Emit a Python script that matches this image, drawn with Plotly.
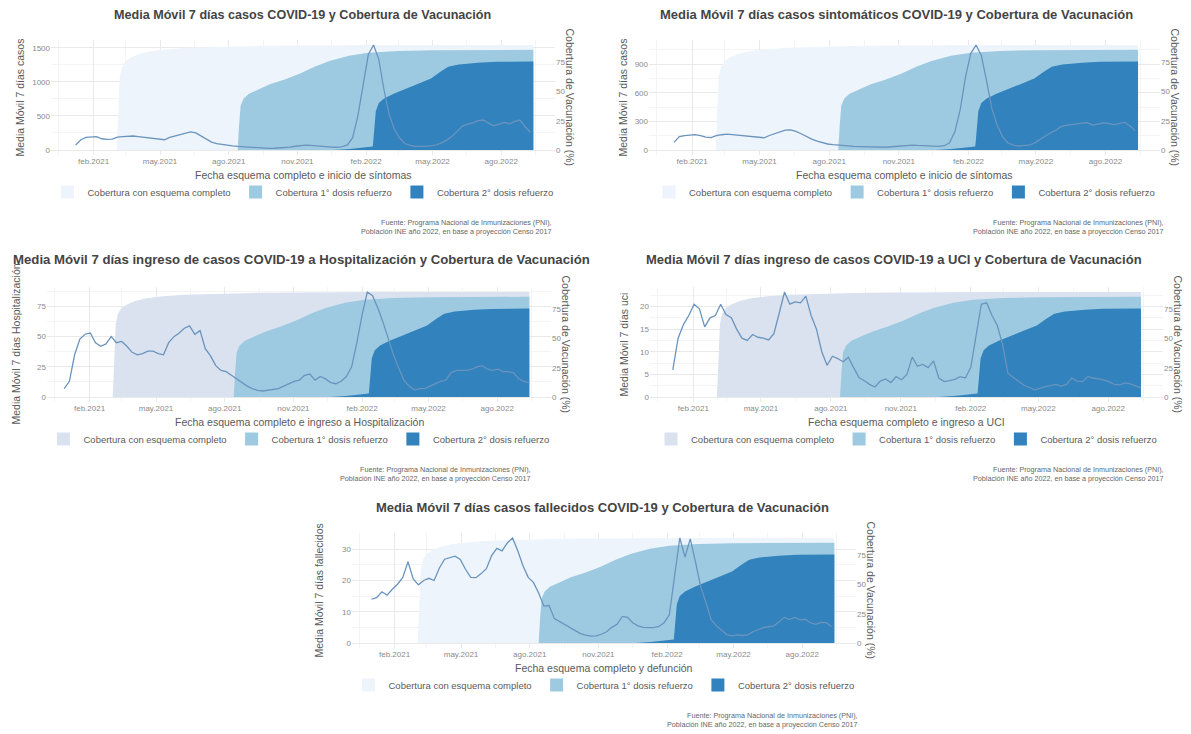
import plotly.graph_objects as go
import pandas as pd

W, H = 1191, 734

# ---------------- data ----------------
TICK_VALS = ["2021-02-01", "2021-05-01", "2021-08-01", "2021-11-01", "2022-02-01", "2022-05-01", "2022-08-01"]
TICK_TEXT = ["feb.2021", "may.2021", "ago.2021", "nov.2021", "feb.2022", "may.2022", "ago.2022"]
MINOR_VALS = ["2020-12-16", "2021-03-16", "2021-06-16", "2021-09-16", "2021-12-16", "2022-03-16", "2022-06-16", "2022-09-16"]
X_RANGE = ["2020-12-06", "2022-10-12"]

# weekly 7-day moving averages
CASOS_START = "2021-01-08"
CASOS = [74, 150, 185, 195, 195, 165, 155, 160, 188, 195, 200, 205, 195, 185, 180, 170, 160, 150, 185, 205,
         225, 255, 265, 250, 205, 150, 115, 95, 80, 68, 60, 52, 46, 41, 36, 30, 26, 25, 26, 28,
         32, 42, 55, 65, 72, 68, 60, 52, 45, 42, 40, 50, 74, 180, 500, 980, 1400, 1540, 1330, 880,
         520, 300, 175, 95, 68, 55, 50, 52, 60, 75, 105, 145, 200, 270, 350, 380, 396, 430, 440, 395,
         356, 380, 406, 385, 420, 440, 340, 260]

SINTOM_START = "2021-01-08"
SINTOM = [80, 140, 150, 156, 162, 150, 134, 130, 150, 160, 166, 162, 156, 150, 143, 136, 130, 128, 152, 172,
          192, 208, 210, 195, 170, 140, 114, 92, 74, 63, 56, 50, 45, 40, 37, 35, 33, 31, 29, 28,
          29, 34, 40, 45, 50, 52, 48, 44, 41, 39, 38, 45, 75, 190, 420, 760, 1010, 1100, 990, 720,
          430, 260, 140, 75, 52, 42, 44, 50, 72, 110, 145, 178, 205, 245, 258, 268, 272, 282, 287, 260,
          270, 284, 280, 266, 276, 292, 255, 205]

HOSP_START = "2020-12-29"
HOSP = [7, 13, 35, 48, 52, 53, 45, 42, 44, 50, 45, 46, 42, 37, 35, 36, 38, 38, 36, 35,
        45, 50, 53, 57, 59, 52, 55, 40, 34, 26, 22, 21, 18, 15, 12, 9, 7, 5.5, 5, 5.5,
        6, 7, 9, 11, 13, 14, 18, 19, 14, 17, 15, 12, 11, 13, 17, 25, 45, 68, 87, 84,
        74, 62, 48, 35, 24, 14, 9, 6, 7, 7, 9, 11, 13, 14, 20, 22, 22, 22, 23, 25,
        26, 23, 22, 23, 21, 21, 20, 15, 13, 12]

UCI_START = "2021-01-05"
UCI = [6, 13, 16, 18, 20.5, 19.5, 15.5, 17.5, 18, 20.5, 18.2, 17.5, 15, 13, 12.5, 13.8, 13.2, 13, 12.6, 14,
       18.5, 23.2, 20.5, 21, 20.8, 22.3, 18, 15, 10, 7, 9, 8.5, 7.8, 8.8, 6.5, 4.3, 3.6, 2.8, 2.2, 3.5,
       4, 3.2, 4.5, 3.8, 5, 8.8, 6.8, 7.2, 6.5, 8, 4.2, 3.4, 3.6, 3.9, 4.5, 4.2, 6.5, 14, 20.5, 20.8,
       18, 15.8, 11.5, 5.2, 4.4, 3.4, 2.6, 2.1, 1.6, 1.9, 2.3, 2.5, 2.8, 2.4, 2.8, 4.2, 3.5, 3.4, 4.5, 4.2,
       4, 3.8, 3.4, 2.8, 2.7, 3.1, 2.9, 2.4, 2]

FALL_START = "2021-01-01"
FALL = [14, 14.5, 16.4, 15.3, 17.2, 18.8, 21, 26, 20.5, 18.6, 20, 20.7, 20, 24, 26.8, 27.3, 27.8, 26.7, 23.6, 21,
        20.9, 22.2, 23.8, 28, 30.3, 29.5, 32, 33.6, 29.5, 24.7, 21, 19.4, 16, 11.8, 12, 7.8, 6.8, 5.8, 4.9, 3.9,
        3, 2.5, 2.2, 2.3, 2.8, 3.6, 5, 6, 8.5, 8.2, 6.5, 5.5, 5, 4.9, 4.9, 5.3, 6.5, 9, 22, 33.6,
        27.5, 33.3, 26, 18, 13, 7.5, 5.5, 4.2, 2.7, 2.3, 2.6, 2.4, 2.6, 3.6, 4.3, 4.9, 5.2, 5.5, 6.8, 8.2,
        7.6, 8.2, 7.4, 7.6, 6.5, 6, 6.6, 6.5, 5.3]

# vaccination coverage (%)
COMPLETO_DATES = ["2020-12-29", "2021-03-04", "2021-03-06", "2021-03-08", "2021-03-11", "2021-03-16", "2021-03-23",
                  "2021-04-03", "2021-04-18", "2021-05-10", "2021-06-08", "2021-07-10", "2021-08-10", "2021-09-15",
                  "2021-11-01", "2022-01-01", "2022-03-01", "2022-09-13"]
COMPLETO = [0, 0, 30, 62, 71, 76, 79, 82, 84.3, 86, 87.3, 88, 88.5, 88.9, 89.2, 89.4, 89.5, 89.6]

REF1_DATES = ["2020-12-29", "2021-08-13", "2021-08-15", "2021-08-17", "2021-08-21", "2021-08-28", "2021-09-11",
              "2021-09-25", "2021-10-14", "2021-11-04", "2021-11-24", "2021-12-14", "2022-01-09", "2022-02-04",
              "2022-03-15", "2022-05-01", "2022-09-13"]
REF1 = [0, 0, 22, 38, 44, 48, 52, 56, 60, 65, 71, 76, 80.5, 83, 84.5, 85.2, 85.5]

REF2_DATES = ["2020-12-29", "2021-12-20", "2022-01-10", "2022-02-01", "2022-02-10", "2022-02-12", "2022-02-14",
              "2022-02-18", "2022-02-25", "2022-03-10", "2022-03-25", "2022-04-13", "2022-04-29", "2022-05-12",
              "2022-05-22", "2022-06-05", "2022-07-01", "2022-07-25", "2022-09-13"]
REF2 = [0, 0, 0.8, 2, 3, 18, 33, 40, 44, 48, 52, 57, 61, 67, 71, 73, 74.5, 75.2, 75.5]

LEGEND_NAMES = ["Cobertura con esquema completo", "Cobertura 1° dosis refuerzo", "Cobertura 2° dosis refuerzo"]
SOURCE = "Fuente: Programa Nacional de Inmunizaciones (PNI),<br>Población INE año 2022, en base a proyección Censo 2017"
RIGHT_TICKS = [0, 25, 50, 75]

# ---------------- style ----------------
FONT = "Liberation Sans, Arial, sans-serif"
LINE_COLOR = "#6a94be"
MID = "#9ecae1"
DARK = "#3182bd"
LIGHT_A = "#eef4fb"
LIGHT_B = "#dae2ef"
GRID = "#e9e9e9"
GRID_MINOR = "#f4f4f4"
TICKC = "#8a8a8a"
TEXTC = "#5a5a5a"

panels = [
    dict(title="Media Móvil 7 días casos COVID-19 y Cobertura de Vacunación", tsize=12.6, tx=294, ty=135,
         ytitle="Media Móvil 7 días casos", xtitle="Fecha esquema completo e inicio de síntomas",
         start=CASOS_START, vals=CASOS, yticks=[0, 500, 1000, 1500], yminor=[250, 750, 1250],
         xpx=(43, 547), zero=142, ytx=11, light=LIGHT_A, src=546),
    dict(title="Media Móvil 7 días casos sintomáticos COVID-19 y Cobertura de Vacunación", tsize=13, tx=888,
         ty=135,
         ytitle="Media Móvil 7 días casos", xtitle="Fecha esquema completo e inicio de síntomas",
         start=SINTOM_START, vals=SINTOM, yticks=[0, 300, 600, 900], yminor=[150, 450, 750, 1050],
         xpx=(641, 1152), zero=142, ytx=614, light=LIGHT_A, src=1158),
    dict(title="Media Móvil 7 días ingreso de casos COVID-19 a Hospitalización y Cobertura de Vacunación", tsize=13.2,
         tx=293, ty=138,
         ytitle="Media Móvil 7 días Hospitalización", xtitle="Fecha esquema completo e ingreso a Hospitalización",
         start=HOSP_START, vals=HOSP, yticks=[0, 25, 50, 75], yminor=[12.5, 37.5, 62.5, 87.5],
         xpx=(39, 543), zero=389, ytx=7, light=LIGHT_B, src=525),
    dict(title="Media Móvil 7 días ingreso de casos COVID-19 a UCI y Cobertura de Vacunación", tsize=13, tx=886,
         ty=138,
         ytitle="Media Móvil 7 días uci", xtitle="Fecha esquema completo e ingreso a UCI",
         start=UCI_START, vals=UCI, yticks=[0, 5, 10, 15, 20], yminor=[2.5, 7.5, 12.5, 17.5, 22.5],
         xpx=(642, 1155), zero=389, ytx=615, light=LIGHT_B, src=1158),
    dict(title="Media Móvil 7 días casos fallecidos COVID-19 y Cobertura de Vacunación", tsize=13, tx=594,
         ty=135,
         ytitle="Media Móvil 7 días fallecidos", xtitle="Fecha esquema completo y defunción",
         start=FALL_START, vals=FALL, yticks=[0, 10, 20, 30], yminor=[5, 15, 25],
         xpx=(344, 848), zero=635, ytx=310, light=LIGHT_A, src=852),
]

PANEL_H = 115.5

fig = go.Figure()
layout = {}
annotations = []

for i, p in enumerate(panels):
    n = i + 1
    xa = "x" if n == 1 else f"x{n}"
    bnum, onum = 2 * i + 1, 2 * i + 2
    yb = "y" if bnum == 1 else f"y{bnum}"
    yo = f"y{onum}"
    leg = "legend" if n == 1 else f"legend{n}"

    covs = [(COMPLETO_DATES, COMPLETO, p["light"]), (REF1_DATES, REF1, MID), (REF2_DATES, REF2, DARK)]
    for dts, vals, col in covs:
        fig.add_trace(go.Scatter(x=pd.to_datetime(dts), y=vals, xaxis=xa, yaxis=yb, mode="lines",
                                 line=dict(width=0, color=col), fill="tozeroy", fillcolor=col,
                                 showlegend=False, hoverinfo="skip"))
    dates = pd.date_range(p["start"], periods=len(p["vals"]), freq="7D")
    fig.add_trace(go.Scatter(x=dates, y=p["vals"], xaxis=xa, yaxis=yo, mode="lines",
                             line=dict(color=LINE_COLOR, width=1.3), showlegend=False))
    for name, (_, _, col) in zip(LEGEND_NAMES, covs):
        fig.add_trace(go.Scatter(x=[None], y=[None], xaxis=xa, yaxis=yb, mode="markers",
                                 marker=dict(symbol="square", size=13, color=col),
                                 name=name, legend=leg, showlegend=True))

    x0, x1 = p["xpx"]
    zero = p["zero"]
    bottom = zero + 5.25
    top = bottom - PANEL_H
    dom_x = [x0 / W, x1 / W]
    dom_y = [1 - bottom / H, 1 - top / H]
    M = max(p["vals"])
    rl = [-0.05 * M, 1.05 * M]
    k = M / max(COMPLETO)
    rr = [rl[0] / k, rl[1] / k]
    tickfont = dict(size=8, color=TICKC, family=FONT)

    layout["xaxis" if n == 1 else f"xaxis{n}"] = dict(
        domain=dom_x, anchor=yb, type="date", range=X_RANGE, tickmode="array",
        tickvals=TICK_VALS, ticktext=TICK_TEXT, showgrid=True, gridcolor=GRID, gridwidth=1,
        zeroline=False, showline=False, ticks="", tickfont=tickfont, fixedrange=True,
        minor=dict(tickmode="array", tickvals=MINOR_VALS, showgrid=True, gridcolor=GRID_MINOR, gridwidth=1))
    layout["yaxis" if bnum == 1 else f"yaxis{bnum}"] = dict(
        domain=dom_y, anchor=xa, side="right", range=rr, tickmode="array", tickvals=RIGHT_TICKS,
        showgrid=False, zeroline=False, showline=False, ticks="", tickfont=tickfont, fixedrange=True)
    layout[f"yaxis{onum}"] = dict(
        anchor=xa, overlaying=yb, side="left", range=rl, tickmode="array", tickvals=p["yticks"],
        showgrid=True, gridcolor=GRID, gridwidth=1, zeroline=False, showline=False, ticks="",
        tickfont=tickfont, fixedrange=True,
        minor=dict(tickmode="array", tickvals=p["yminor"], showgrid=True, gridcolor=GRID_MINOR, gridwidth=1))

    cx = (x0 + x1) / 2
    layout[leg] = dict(orientation="h", x=cx / W, y=1 - (zero + 42) / H, xanchor="center", yanchor="middle",
                       font=dict(size=9.5, color=TEXTC, family=FONT), bgcolor="rgba(0,0,0,0)",
                       itemwidth=30, tracegroupgap=0, itemclick=False, itemdoubleclick=False)

    annotations += [
        dict(text=f"<b>{p['title']}</b>", x=p["tx"] / W, y=1 - (zero - p["ty"]) / H, xref="paper", yref="paper",
             xanchor="center", yanchor="middle", showarrow=False,
             font=dict(size=p["tsize"], color="#444444", family=FONT)),
        dict(text=p["xtitle"], x=cx / W, y=1 - (zero + 25) / H, xref="paper", yref="paper",
             xanchor="center", yanchor="middle", showarrow=False,
             font=dict(size=10.5, color=TEXTC, family=FONT)),
        dict(text=p["ytitle"], x=p["ytx"] / W, y=1 - (bottom + top) / 2 / H, xref="paper", yref="paper",
             xanchor="center", yanchor="middle", showarrow=False, textangle=-90,
             font=dict(size=10.5, color=TEXTC, family=FONT)),
        dict(text="Cobertura de Vacunación (%)", x=(x1 + 15) / W, y=1 - (bottom + top) / 2 / H,
             xref="paper", yref="paper", xanchor="center", yanchor="middle", showarrow=False, textangle=90,
             font=dict(size=10.5, color=TEXTC, family=FONT)),
        dict(text=SOURCE, x=p["src"] / W, y=1 - (zero + 66) / H, xref="paper", yref="paper",
             xanchor="right", yanchor="top", align="right", showarrow=False,
             font=dict(size=7.2, color="#666666", family=FONT)),
    ]

fig.update_layout(
    width=W, height=H, margin=dict(l=0, r=0, t=0, b=0),
    paper_bgcolor="white", plot_bgcolor="white",
    font=dict(family=FONT, color=TEXTC),
    annotations=annotations, hovermode=False,
    **layout,
)

fig.write_html("out.html", config={"displayModeBar": False})
